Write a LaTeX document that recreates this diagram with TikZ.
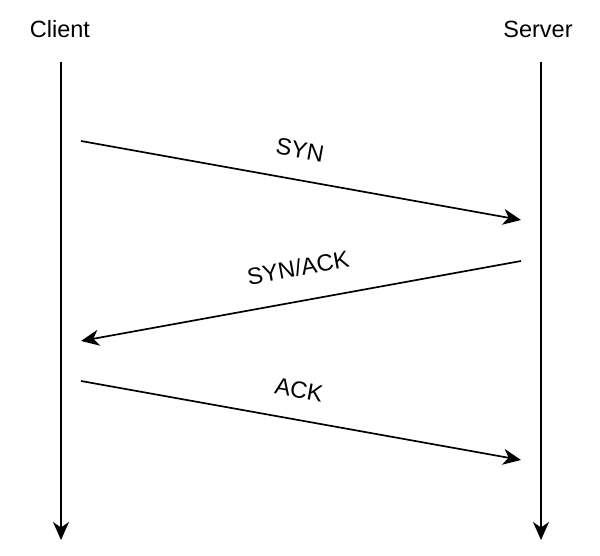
\documentclass[tikz,border=0pt]{standalone}
\usepackage{fontspec}
\setmainfont{Liberation Sans}
\usetikzlibrary{arrows.meta}
\begin{document}
\begin{tikzpicture}[x=1pt,y=-1pt,
  tip/.style={-{Stealth[length=18pt,width=16pt,inset=5.5pt]}},
  msg/.style={line width=1.7pt,tip},
  life/.style={line width=1.7pt,tip},
  actor/.style={font=\fontsize{23.5}{27}\selectfont,inner sep=0pt,anchor=base},
  lbl/.style={font=\fontsize{23.5}{27}\selectfont,inner sep=0pt,anchor=center}]
\useasboundingbox[fill=white] (0,0) rectangle (600,556);
\node[actor] (client) at (60,37.5) {Client};
\node[actor] (server) at (538,37.5) {Server};
\coordinate (ctop) at (61,62);
\coordinate (cbot) at (61,540);
\coordinate (stop) at (541,62);
\coordinate (sbot) at (541,540);
\draw[life] (ctop) -- (cbot);
\draw[life] (stop) -- (sbot);
\coordinate (c1) at (81,141);
\coordinate (s1) at (521,220);
\coordinate (s2) at (521,261);
\coordinate (c2) at (81,341);
\coordinate (c3) at (81,381);
\coordinate (s3) at (521,460);
\draw[msg] (c1) -- (s1);
\draw[msg] (s2) -- (c2);
\draw[msg] (c3) -- (s3);
\node[lbl,rotate=-10.2] (syn) at (300,150) {SYN};
\node[lbl,rotate=10.3] (synack) at (298,268) {SYN/ACK};
\node[lbl,rotate=-10.2] (ack) at (299,390) {ACK};
\end{tikzpicture}
\end{document}
